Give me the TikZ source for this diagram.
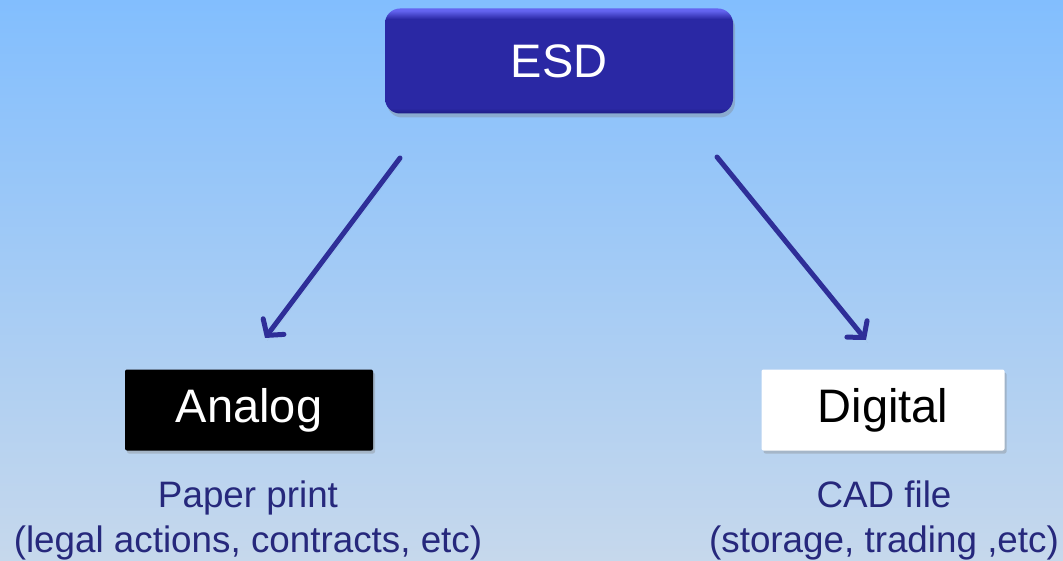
\documentclass[tikz,border=0pt]{standalone}
\usepackage{fontspec}
\setmainfont{Liberation Sans}
\usetikzlibrary{arrows.meta,shadows,shadings}
\definecolor{bgtop}{HTML}{82BEFE}
\definecolor{bgbot}{HTML}{C6D8EC}
\definecolor{esdtop}{HTML}{6464F0}
\definecolor{esdmid}{HTML}{2A28A4}
\definecolor{esdbot}{HTML}{1C1C84}
\definecolor{arrowblue}{HTML}{2E2E98}
\definecolor{captext}{HTML}{26287C}
% glossy button: thin light rim on top, flat body, dark lower edge
\pgfdeclareverticalshading{esdshade}{100bp}{%
  color(0bp)=(esdbot); color(25bp)=(esdbot); color(27.5bp)=(esdmid);
  color(70bp)=(esdmid); color(74bp)=(esdtop); color(100bp)=(esdtop)}
\tikzset{
  x=1pt, y=1pt,
  flow/.style={line width=5pt, arrowblue, line cap=round,
    -{Straight Barb[length=11pt,width=26pt,line cap=round,line width=5pt]},
    drop shadow={shadow xshift=2pt,shadow yshift=-3pt,opacity=0.25}},
  headbox/.style={rounded corners=15pt, minimum width=348pt, minimum height=105pt,
    shading=esdshade,
    drop shadow={shadow xshift=2pt,shadow yshift=-4pt,opacity=0.35},
    text=white, font=\fontsize{47}{47}\selectfont},
  leafbox/.style={rounded corners=2pt, minimum height=81pt,
    font=\fontsize{47}{47}\selectfont,
    drop shadow={shadow xshift=2pt,shadow yshift=-3pt,opacity=0.35}},
  caption/.style={text=captext, align=center, font=\fontsize{36.8}{45}\selectfont,
    inner sep=0pt}
}
\begin{document}
\begin{tikzpicture}
  % background
  \shade[top color=bgtop, bottom color=bgbot] (0,0) rectangle (1063,-561);
  \useasboundingbox (0,0) rectangle (1063,-561);

  % boxes
  \node[headbox] (esd) at (559,-61) {ESD};
  \node[leafbox, fill=black, text=white, minimum width=248pt] (analog) at (249,-410) {Analog};
  \node[leafbox, fill=white, text=black, minimum width=243pt] (digital) at (883,-410) {Digital};

  % captions
  \node[caption] (paper) at (248,-520) {Paper print\\(legal actions, contracts, etc)};
  \node[caption] (cad) at (884,-520) {CAD file\\(storage, trading ,etc)};

  % connectors
  \coordinate (lstart) at (400,-158);
  \coordinate (lend) at (265,-338);
  \coordinate (rstart) at (717,-157);
  \coordinate (rend) at (866,-340);
  \draw[flow] (lstart) -- (lend);
  \draw[flow] (rstart) -- (rend);
\end{tikzpicture}
\end{document}
